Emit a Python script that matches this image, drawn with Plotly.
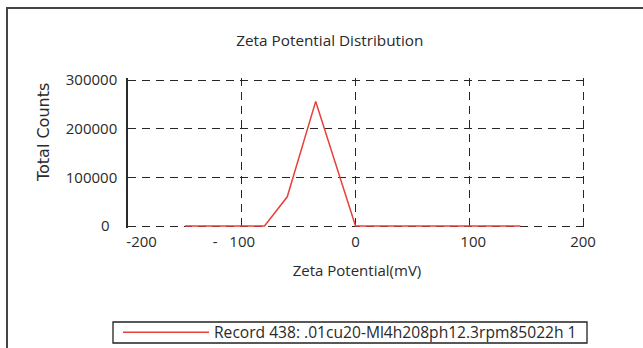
import plotly.graph_objects as go

# Zeta potential distribution for one measurement record
zeta_mv = [-150, -80, -60, -35, 0, 145]
total_counts = [0, 0, 60000, 256000, 0, 0]

NB = "\u00a0"  # non-breaking space used to nudge a few tick labels sideways

x_ticks = [-200, -100, 0, 100, 200]
x_tick_text = [NB * 7 + "-200", "-" + NB * 3 + "100" + NB * 4, "0", NB * 2 + "100", "200"]
y_ticks = [0, 100000, 200000, 300000]
y_tick_text = ["0" + NB * 2, "100000", "200000", "300000"]

record_name = "Record 438: .01cu20-Ml4h208ph12.3rpm85022h 1"

W, H = 643, 348
# plot area in pixels; a little room past 200 / 0 / 300000 keeps those grid lines visible
PL, PT, PW, PH = 128, 78, 458, 150
X_RANGE = [-200, 202.6]
Y_RANGE = [-4110, 304110]

TEXT_FONT = "Open Sans, Lato, sans-serif"
INK = "#2a2a2a"
GRID = "#262626"
DASH = "8px,6px"


def px_x(px):
    return (px - PL) / PW


def px_y(py):
    return (PT + PH - py) / PH


fig = go.Figure()
fig.add_trace(go.Scatter(
    x=zeta_mv, y=total_counts, mode="lines",
    name=record_name,
    line=dict(color="#e8403a", width=1.5),
))

fig.update_layout(
    width=W, height=H,
    margin=dict(l=PL, r=W - PL - PW, t=PT, b=H - PT - PH, autoexpand=False),
    paper_bgcolor="white", plot_bgcolor="white",
    font=dict(family=TEXT_FONT, size=15, color=INK),
    title=dict(text="Zeta Potential Distribution", x=0.513, xref="container",
               y=1 - 41 / H, yref="container", xanchor="center", yanchor="middle",
               font=dict(family=TEXT_FONT, size=15.3, color=INK)),
    xaxis=dict(
        range=X_RANGE, tickvals=x_ticks, ticktext=x_tick_text,
        showgrid=True, gridcolor=GRID, gridwidth=1.3, griddash=DASH,
        zeroline=False, showline=False, ticks="", ticklabelstandoff=3,
        title=dict(text="Zeta Potential(mV)", standoff=15,
                   font=dict(family=TEXT_FONT, size=15, color=INK)),
    ),
    yaxis=dict(
        range=Y_RANGE, tickvals=y_ticks, ticktext=y_tick_text,
        showgrid=True, gridcolor=GRID, gridwidth=1.3, griddash=DASH,
        zeroline=False, showline=True, linecolor=INK, linewidth=1.5,
        ticks="", ticklabelstandoff=6,
    ),
    showlegend=True,
    legend=dict(
        x=118 / W, xref="container", xanchor="left",
        y=1 - 332.5 / H, yref="container", yanchor="middle",
        borderwidth=0, bgcolor="rgba(0,0,0,0)",
        itemwidth=86,
        font=dict(family=TEXT_FONT, size=15.6, color=INK),
    ),
    annotations=[dict(
        text="Total Counts", textangle=-90,
        x=px_x(43), y=px_y(133), xref="paper", yref="paper",
        showarrow=False, xanchor="center", yanchor="middle",
        font=dict(family="DejaVu Sans", size=16, color=INK),
    )],
    shapes=[
        # legend frame
        dict(type="rect", xref="paper", yref="paper",
             x0=px_x(113), x1=px_x(587), y0=px_y(343), y1=px_y(322),
             line=dict(color="#222", width=1.3), fillcolor="rgba(0,0,0,0)", layer="below"),
        # outer page frame
        dict(type="rect", xref="paper", yref="paper",
             x0=px_x(7), x1=px_x(665), y0=px_y(375), y1=px_y(8),
             line=dict(color="#444", width=2), fillcolor="rgba(0,0,0,0)", layer="below"),
    ],
)

fig.write_html("out.html")
